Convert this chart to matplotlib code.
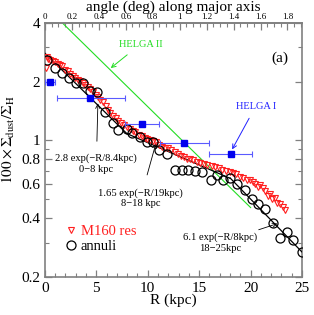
import numpy as np
import matplotlib
matplotlib.use("Agg")
import matplotlib.pyplot as plt
from matplotlib.ticker import FixedLocator, FixedFormatter, MultipleLocator

plt.rcParams['font.family'] = ['Liberation Serif', 'DejaVu Serif']
plt.rcParams['mathtext.fontset'] = 'stix'

# annuli (black open circles)
r_ann = [0.2, 1.0, 1.65, 2.35, 3.0, 3.7, 4.4, 5.1, 5.85, 6.6, 7.1, 8.0, 8.5, 9.25,
         9.9, 10.5, 11.1, 11.9, 12.6, 13.3, 13.9, 14.6, 15.3, 16.1, 16.7, 17.3,
         18.0, 18.7, 19.5, 20.1, 20.7, 21.4, 22.2, 22.9, 23.5, 24.1, 25.0]
y_ann = [2.58, 2.35, 2.22, 2.09, 1.97, 1.97, 1.79, 1.77, 1.40, 1.23, 1.13, 1.14, 1.09, 1.04,
         0.98, 0.98, 0.89, 0.85, 0.71, 0.71, 0.71, 0.70, 0.69, 0.63, 0.665, 0.63,
         0.64, 0.60, 0.56, 0.50, 0.47, 0.445, 0.377, 0.315, 0.34, 0.31, 0.268]

# M160 resolution (red open triangles)
r_res = [0.1, 0.2, 0.3, 0.5, 0.8, 1.0, 1.3, 1.5, 1.7, 2.0, 2.2, 2.4, 2.7, 2.9, 3.2, 3.4,
         3.7, 3.9, 4.2, 4.4, 4.7, 5.0, 5.2, 5.4, 5.6, 5.9, 6.1, 6.3, 6.6, 6.9, 7.1, 7.4,
         7.7, 8.0, 8.3, 8.6, 8.8, 9.1, 9.4, 9.7, 9.9, 10.2, 10.5, 10.8, 11.1, 11.4, 11.7,
         12.0, 12.3, 12.6, 12.9, 13.2, 13.5, 13.8, 14.1, 14.4, 14.8, 15.1, 15.5, 15.8,
         16.2, 16.5, 16.9, 17.2, 17.6, 18.0, 18.3, 18.6, 19.0, 19.3, 19.6, 19.9, 20.2,
         20.4, 20.7, 20.9, 21.2, 21.4, 21.7, 21.9, 22.1, 22.4, 22.6, 22.9, 23.1, 23.3]
y_res = [2.35, 2.68, 2.62, 2.58, 2.55, 2.52, 2.47, 2.44, 2.40, 2.30, 2.27, 2.20, 2.14, 2.10,
         2.05, 2.02, 1.98, 1.93, 1.87, 1.83, 1.77, 1.72, 1.68, 1.62, 1.57, 1.50, 1.44,
         1.39, 1.34, 1.30, 1.26, 1.23, 1.20, 1.17, 1.14, 1.12, 1.10, 1.07, 1.05, 1.03,
         1.02, 1.00, 0.99, 0.98, 0.95, 0.93, 0.92, 0.91, 0.89, 0.87, 0.85, 0.83, 0.82,
         0.80, 0.80, 0.79, 0.78, 0.77, 0.76, 0.75, 0.74, 0.73, 0.72, 0.71, 0.70, 0.69,
         0.68, 0.67, 0.65, 0.64, 0.63, 0.63, 0.61, 0.60, 0.58, 0.59, 0.57, 0.55, 0.52,
         0.53, 0.50, 0.51, 0.48, 0.47, 0.456, 0.44]

# HELGA bins (blue squares with horizontal ranges)
r_helga = [0.5, 4.4, 9.4, 13.5, 18.1]
r_lo = [0.0, 1.2, 7.8, 11.2, 16.0]
r_hi = [1.0, 7.8, 11.1, 16.0, 20.1]
y_helga = [2.0, 1.65, 1.21, 0.97, 0.85]

# exponential fits: (amplitude, scale length, Rmin, Rmax)
fits = [(2.8, 8.4, 0, 8), (1.65, 19.0, 8, 18), (6.1, 8.0, 18, 25)]
helga2 = (4.9, 8.4, 0, 20)

kpc_per_deg = 13.1

fig = plt.figure(figsize=(3.14, 3.15), dpi=100)
ax = fig.add_axes([0.143, 0.121, 0.819, 0.806])

for a, h, r0, r1 in fits:
    rr = np.linspace(r0, r1, 50)
    ax.plot(rr, a * np.exp(-rr / h), color='black', lw=0.9, zorder=3)

rr = np.linspace(helga2[2], helga2[3], 50)
ax.plot(rr, helga2[0] * np.exp(-rr / helga2[1]), color='#22dd22', lw=0.8, zorder=2)

ax.plot(r_res, y_res, linestyle='none', marker='v', ms=4.3, mfc='none', mec='#ff2020',
        mew=0.8, label='M160 res', zorder=4)
ax.plot(r_ann, y_ann, linestyle='none', marker='o', ms=6.5, mfc='none', mec='black',
        mew=0.9, label='annuli', zorder=5)

xerr = [np.array(r_helga) - np.array(r_lo), np.array(r_hi) - np.array(r_helga)]
ax.errorbar(r_helga, y_helga, xerr=xerr, fmt='s', ms=4.5, color='#0000ee',
            ecolor='#5a5aff', elinewidth=0.8, capsize=2.5, capthick=0.8, zorder=6)

ax.set_xlim(0, 25)
ax.set_yscale('log')
ax.set_ylim(0.2, 4)

ax.yaxis.set_major_locator(FixedLocator([0.2, 0.4, 0.6, 0.8, 1, 2, 4]))
ax.yaxis.set_major_formatter(FixedFormatter(['0.2', '0.4', '0.6', '0.8', '1', '2', '4']))
ax.yaxis.set_minor_locator(FixedLocator([0.3, 0.5, 0.7, 0.9, 3]))
ax.yaxis.set_minor_formatter(FixedFormatter([]))
ax.xaxis.set_major_locator(MultipleLocator(5))
ax.xaxis.set_minor_locator(MultipleLocator(1))

for sp in ax.spines.values():
    sp.set_color('#808080')
    sp.set_linewidth(1.2)
ax.tick_params(which='both', direction='in', right=True, colors='#808080',
               labelcolor='black', labelsize=11)
ax.tick_params(which='major', length=5, width=0.9)
ax.tick_params(which='minor', length=3, width=0.8)

ax.set_xlabel('R (kpc)', fontsize=11, labelpad=-1)
ax.set_ylabel(r'$100\times\Sigma_{\rm dust}/\Sigma_{\rm H}$', fontsize=11)
ax.yaxis.set_label_coords(-0.11, 0.54)

top = ax.secondary_xaxis('top', functions=(lambda r: r / kpc_per_deg, lambda d: d * kpc_per_deg))
top.xaxis.set_minor_locator(MultipleLocator(0.05))
top.set_xticks(np.arange(0, 1.81, 0.2))
top.set_xticklabels(['0', '0.2', '0.4', '0.6', '0.8', '1', '1.2', '1.4', '1.6', '1.8'])
top.spines['top'].set_color('#808080')
top.spines['top'].set_linewidth(1.2)
top.tick_params(which='both', direction='in', colors='#808080', labelcolor='black',
                labelsize=6.5, pad=1.5)
top.tick_params(which='major', length=5, width=0.9)
top.tick_params(which='minor', length=3, width=0.8)
top.set_xlabel('angle (deg) along major axis', fontsize=11, labelpad=1.5)

ax.text(0.915, 0.86, '(a)', transform=ax.transAxes, fontsize=11, ha='center', va='center')

# HELGA labels
ax.annotate('HELGA II', xy=(6.4, 2.35), xytext=(9.3, 3.12), color='#22dd22', fontsize=7.5,
            ha='center', va='center',
            arrowprops=dict(arrowstyle='->', color='#22dd22', lw=0.7, shrinkA=4, shrinkB=0))
ax.annotate('HELGA I', xy=(18.2, 0.9), xytext=(20.5, 1.5), color='#2020ff', fontsize=7.5,
            ha='center', va='center',
            arrowprops=dict(arrowstyle='->', color='#2020ff', lw=0.7, shrinkA=4, shrinkB=0))

# fit labels
ax.annotate('2.8 exp(\u2212R/8.4kpc)\n0\u22128 kpc', xy=(5.15, 1.55), xytext=(5.0, 0.76),
            fontsize=7.6, ha='center', va='center', linespacing=1.2,
            arrowprops=dict(arrowstyle='->', color='black', lw=0.6, shrinkA=7, shrinkB=0))
ax.annotate('1.65 exp(\u2212R/19kpc)\n8\u221218 kpc', xy=(10.8, 0.97), xytext=(9.3, 0.505),
            fontsize=7.6, ha='center', va='center', linespacing=1.2,
            arrowprops=dict(arrowstyle='->', color='black', lw=0.6, shrinkA=8, shrinkB=0))
ax.annotate('6.1 exp(\u2212R/8kpc)\n18\u221225kpc', xy=(22.6, 0.375), xytext=(17.0, 0.30),
            fontsize=7.6, ha='center', va='center', linespacing=1.2,
            arrowprops=dict(arrowstyle='->', color='black', lw=0.6, shrinkA=24, shrinkB=0))

leg = ax.legend(loc='lower left', bbox_to_anchor=(0.06, 0.07), frameon=False, fontsize=10.5,
                handlelength=0.6, handletextpad=0.4, labelspacing=0.15, borderaxespad=0,
                labelcolor=['#ff2020', 'black'])

fig.savefig('out.png', dpi=100)
